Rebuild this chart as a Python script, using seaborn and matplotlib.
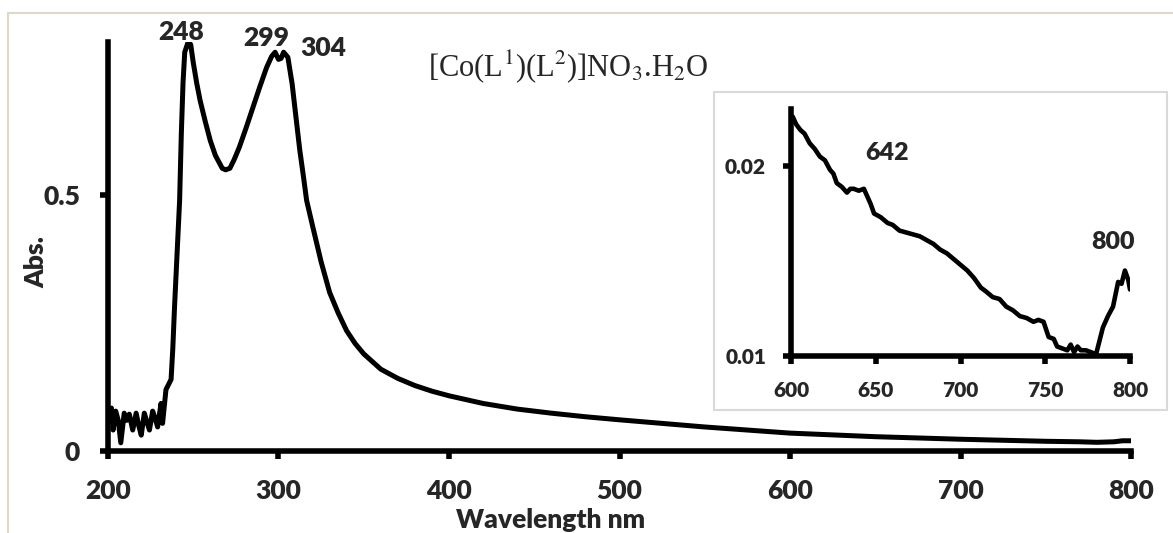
import pandas as pd
import seaborn as sns
import matplotlib.pyplot as plt
from matplotlib.patches import Rectangle
from matplotlib.lines import Line2D

# main spectrum
wavelength = [200, 202, 203, 204.5, 206, 207.5, 209.5, 211, 212.5, 214.5, 216.5, 218, 219.5,
              221.3, 223, 224.3, 226.2, 228, 229.1, 231.1, 232, 234, 235.5, 237, 238, 239,
              240, 241, 242, 243, 244, 245, 247, 248.5, 250, 252, 254, 257, 260, 263, 267,
              269, 271.5, 274, 277, 281, 285, 289, 293, 296, 298, 300, 301.5, 303, 305.5, 308,
              310, 312.5, 314.5, 316.5, 320, 325, 330, 335, 340, 345, 350, 360, 370, 380,
              390, 400, 420, 440, 460, 480, 500, 550, 600, 650, 700, 750, 770, 780, 790, 795, 800]
absorb = [0.07, 0.084, 0.041, 0.078, 0.06, 0.016, 0.074, 0.06, 0.072, 0.041, 0.074, 0.05, 0.031,
          0.074, 0.055, 0.041, 0.078, 0.06, 0.047, 0.093, 0.054, 0.12, 0.13, 0.14, 0.2, 0.28,
          0.35, 0.42, 0.49, 0.62, 0.72, 0.78, 0.80, 0.795, 0.76, 0.72, 0.686, 0.645, 0.607, 0.578, 0.553,
          0.55, 0.553, 0.57, 0.594, 0.632, 0.672, 0.712, 0.75, 0.772, 0.78, 0.766, 0.768, 0.78, 0.77, 0.718,
          0.66, 0.588, 0.54, 0.49, 0.44, 0.37, 0.31, 0.27, 0.235, 0.21, 0.19, 0.16, 0.142, 0.128,
          0.117, 0.108, 0.093, 0.082, 0.074, 0.067, 0.061, 0.047, 0.035, 0.028, 0.023, 0.019, 0.018, 0.017, 0.018, 0.02, 0.02]

# inset, 600-800 nm
inset_nm = [601, 603, 605.5, 608, 611, 614, 617, 620, 623, 625, 627, 630, 633, 635, 637, 640,
            643, 645, 647, 649, 653, 657, 660, 664, 668, 672, 676, 680, 684, 688, 692, 696,
            700, 704, 708, 712, 715, 719, 723, 727, 731, 735, 739, 743, 746, 749, 752, 755,
            757, 760, 763, 765, 767, 769, 771, 774, 777, 780, 782, 784, 787, 790, 793, 795,
            797, 799, 800]
inset_abs = [0.0226, 0.0222, 0.0219, 0.0217, 0.0212, 0.0209, 0.0205, 0.0203, 0.0198, 0.0196, 0.0191, 0.0189, 0.0186, 0.0188, 0.0188, 0.0187,
             0.0188, 0.0184, 0.0180, 0.0175, 0.0173, 0.0170, 0.0169, 0.0166, 0.0165, 0.0164, 0.0163, 0.0161, 0.0159, 0.0156, 0.0154, 0.0151,
             0.0148, 0.0145, 0.0141, 0.0136, 0.0134, 0.0131, 0.0130, 0.0126, 0.0124, 0.0121, 0.0120, 0.0118, 0.0119, 0.0118, 0.0110, 0.0109,
             0.0105, 0.0104, 0.0103, 0.0106, 0.0102, 0.0105, 0.0103, 0.0103, 0.0102, 0.0101, 0.0108, 0.0115, 0.0121, 0.0126, 0.0139, 0.0138,
             0.0145, 0.0140, 0.0135]

main_ticks = [200, 300, 400, 500, 600, 700, 800]
inset_ticks = [600, 650, 700, 750, 800]

sns.set_theme(style="white")
plt.rcParams['font.family'] = ['Lato', 'DejaVu Sans']
plt.rcParams['mathtext.fontset'] = 'stix'
BOLD = 'heavy'

W, H = 1173, 533
fig = plt.figure(figsize=(W / 100, H / 100), dpi=100)

def fx(px):
    return px / W

def fy(py):
    return 1 - py / H

# outer frame (only top and left show)
fig.add_artist(Line2D([fx(8), 1], [fy(13), fy(13)], color='#ddd9c3', lw=1.5))
fig.add_artist(Line2D([fx(8), fx(8)], [fy(13), 0], color='#ddd9c3', lw=1.5))

df = pd.DataFrame({'nm': wavelength, 'abs': absorb})
ax = fig.add_axes([fx(108), fy(451), fx(1131) - fx(108), fy(42) - fy(451)])
sns.lineplot(data=df, x='nm', y='abs', ax=ax, color='black', lw=3.6, sort=False, estimator=None)
ax.set_xlim(200, 800)
ax.set_ylim(0, 0.8)
ax.set_xticks(main_ticks)
ax.set_yticks([0, 0.5])
ax.set_yticklabels(['0', '0.5'])
ax.set_xlabel('')
ax.set_ylabel('')
for s in ['top', 'right']:
    ax.spines[s].set_visible(False)
for s in ['left', 'bottom']:
    ax.spines[s].set_linewidth(4)
    ax.spines[s].set_color('black')
ax.tick_params(axis='both', direction='out', length=6, width=4, color='black',
               labelsize=19, pad=14, left=True, bottom=True)
for t in ax.get_xticklabels() + ax.get_yticklabels():
    t.set_fontweight(BOLD)

for lab, x, y in [('248', 243, 0.82), ('299', 292.6, 0.807), ('304', 326, 0.789)]:
    ax.text(x, y, lab, fontsize=19, fontweight=BOLD, ha='center', va='center')

fig.text(fx(645), fy(520), 'Wavelength nm', fontsize=19, fontweight=BOLD, ha='right', va='center')
fig.text(fx(36), fy(262), 'Abs.', fontsize=19, fontweight=BOLD, rotation=90, ha='center', va='center')
fig.text(fx(428), fy(67), r'[Co(L$^{1}$)(L$^{2}$)]NO$_{3}$.H$_{2}$O', fontsize=22,
         family='Liberation Serif', ha='left', va='center')

# inset box
box = Rectangle((fx(714), fy(410)), fx(1167) - fx(714), fy(92) - fy(410),
                transform=fig.transFigure, facecolor='white', edgecolor='#d9d9d9', lw=1.5, zorder=2)
fig.add_artist(box)

di = pd.DataFrame({'nm': inset_nm, 'abs': inset_abs})
axi = fig.add_axes([fx(791), fy(356), fx(1130) - fx(791), fy(109) - fy(356)])
axi.set_zorder(3)
sns.lineplot(data=di, x='nm', y='abs', ax=axi, color='black', lw=3.3, sort=False, estimator=None)
axi.set_xlim(600, 800)
axi.set_ylim(0.01, 0.023)
axi.set_xticks(inset_ticks)
axi.set_yticks([0.01, 0.02])
axi.set_yticklabels(['0.01', '0.02'])
axi.set_xlabel('')
axi.set_ylabel('')
axi.patch.set_alpha(0)
for s in ['top', 'right']:
    axi.spines[s].set_visible(False)
for s in ['left', 'bottom']:
    axi.spines[s].set_linewidth(4)
    axi.spines[s].set_color('black')
axi.tick_params(axis='both', direction='out', length=6, width=4, color='black',
                labelsize=15, pad=12, left=True, bottom=True)
for t in axi.get_xticklabels() + axi.get_yticklabels():
    t.set_fontweight(BOLD)
axi.text(656.6, 0.0207, '642', fontsize=18, fontweight=BOLD, ha='center', va='center')
axi.text(790, 0.016, '800', fontsize=18, fontweight=BOLD, ha='center', va='center')

fig.savefig('out.png', dpi=100)
